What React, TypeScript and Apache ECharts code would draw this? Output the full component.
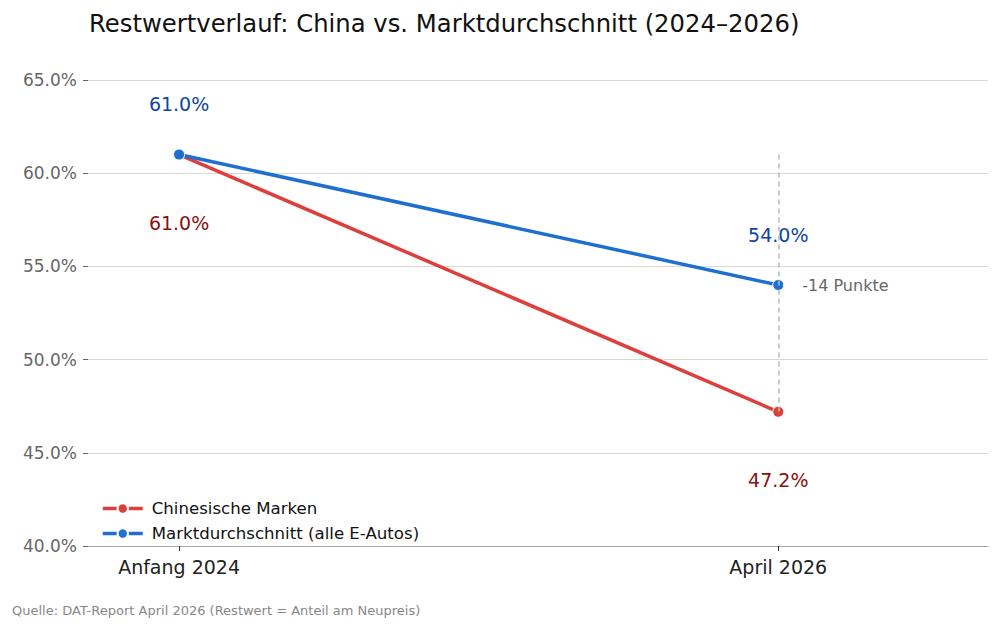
import React, { useEffect, useRef } from "react";
import * as echarts from "echarts";

const categories = ["Anfang 2024", "April 2026"];
const chinaValues = [61.0, 47.2];
const marketValues = [61.0, 54.0];
const yTicks = [40, 45, 50, 55, 60, 65];
const diffLabel = "-14 Punkte";
const title = "Restwertverlauf: China vs. Marktdurchschnitt (2024–2026)";
const source = "Quelle: DAT-Report April 2026 (Restwert = Anteil am Neupreis)";
const seriesNames = ["Chinesische Marken", "Marktdurchschnitt (alle E-Autos)"];

const FONT = "DejaVu Sans";

export default function App() {
  const ref = useRef<HTMLDivElement>(null);
  useEffect(() => {
    if (!ref.current) return;
    const chart = echarts.init(ref.current, undefined, { renderer: "svg" });
    const idx = categories.map((_, i) => i);
    const redData = idx.map((i) => [i, chinaValues[i]]);
    const blueData = idx.map((i) => [i, marketValues[i]]);
    const last = idx.length - 1;
    chart.setOption({
      animation: false,
      backgroundColor: "#ffffff",
      textStyle: { fontFamily: FONT },
      title: {
        text: title,
        left: 84,
        top: 6,
        textStyle: { fontFamily: FONT, fontSize: 24.3, fontWeight: "normal", color: "#111" },
      },
      graphic: [
        {
          type: "text",
          left: 12,
          top: 604,
          style: { text: source, fontFamily: FONT, fontSize: 13, fill: "#888" },
        },
      ],
      legend: {
        orient: "vertical",
        left: 96,
        top: 495,
        itemWidth: 40,
        itemHeight: 13,
        itemGap: 8,
        lineStyle: { width: 3.5 },
        textStyle: { fontFamily: FONT, fontSize: 16.6, color: "#111", padding: [0, 0, 0, 4] },
        data: seriesNames,
      },
      grid: { left: 88, right: 12, top: 80, bottom: 84 },
      xAxis: {
        type: "value",
        min: -0.152,
        max: 1.35,
        axisLine: { show: true, onZero: false, lineStyle: { color: "#a8a89c", width: 1 } },
        axisTick: { show: true, customValues: idx, length: 5, lineStyle: { color: "#333" } },
        axisLabel: {
          customValues: idx,
          formatter: (v: number) => categories[Math.round(v)] ?? "",
          fontFamily: FONT,
          fontSize: 19,
          color: "#222",
          margin: 11,
        },
        splitLine: { show: false },
      },
      yAxis: {
        type: "value",
        min: yTicks[0],
        max: yTicks[yTicks.length - 1],
        interval: 5,
        axisLine: { show: false, onZero: false },
        axisTick: { show: true, length: 5, lineStyle: { color: "#666" } },
        axisLabel: {
          formatter: (v: number) => v.toFixed(1) + "%",
          fontFamily: FONT,
          fontSize: 17,
          color: "#666",
          margin: 11,
        },
        splitLine: { show: true, lineStyle: { color: "#d9d9d0", width: 1 } },
      },
      series: [
        {
          name: seriesNames[0],
          type: "line",
          data: redData,
          color: "#dc3f3c",
          lineStyle: { width: 3.5, color: "#dc3f3c" },
          symbol: "circle",
          symbolSize: 11,
          itemStyle: { color: "#dc3f3c", borderColor: "#ffffff", borderWidth: 1 },
          z: 2,
          label: {
            show: true,
            position: "bottom",
            distance: 53,
            formatter: (p: any) => p.value[1].toFixed(1) + "%",
            fontFamily: FONT,
            fontSize: 19,
            color: "#8b1010",
          },
        },
        {
          name: seriesNames[1],
          type: "line",
          data: blueData,
          color: "#1f6fd0",
          lineStyle: { width: 3.5, color: "#1f6fd0" },
          symbol: "circle",
          symbolSize: 11,
          itemStyle: { color: "#1f6fd0", borderColor: "#ffffff", borderWidth: 1 },
          z: 3,
          label: {
            show: true,
            position: "top",
            distance: 35,
            formatter: (p: any) => p.value[1].toFixed(1) + "%",
            fontFamily: FONT,
            fontSize: 19,
            color: "#0d47a1",
          },
          markLine: {
            silent: true,
            symbol: "none",
            z: 10,
            label: { show: false },
            lineStyle: { color: "#b8b8b8", type: [5, 4], width: 1.5 },
            data: [
              [
                { coord: [last, chinaValues[0]] },
                { coord: [last, chinaValues[last]] },
              ],
            ],
          },
          markPoint: {
            silent: true,
            symbol: "circle",
            symbolSize: 0,
            data: [
              {
                coord: [last, marketValues[last]],
                label: {
                  show: true,
                  formatter: diffLabel,
                  position: "right",
                  distance: 24,
                  fontFamily: FONT,
                  fontSize: 16,
                  color: "#666",
                },
              },
            ],
          },
        },
      ],
    });
    return () => chart.dispose();
  }, []);
  return (
    <div
      ref={ref}
      style={{ position: "fixed", left: 0, top: 0, width: 1000, height: 630 }}
    />
  );
}
